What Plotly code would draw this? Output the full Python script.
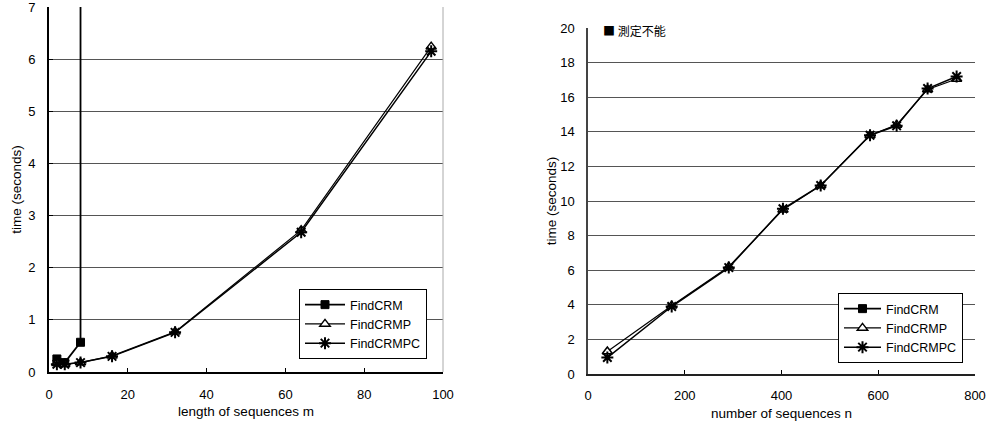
import plotly.graph_objects as go

# ---- Left chart data: length of sequences m ----
m_crm = [2, 4, 8, 8]
t_crm = [0.25, 0.18, 0.57, 9.0]          # last value: off-scale (measurement impossible)
m_vals = [2, 4, 8, 16, 32, 64, 97]
t_crmp_m = [0.17, 0.15, 0.18, 0.31, 0.77, 2.72, 6.24]
t_crmpc_m = [0.15, 0.15, 0.18, 0.30, 0.76, 2.68, 6.15]

# ---- Right chart data: number of sequences n ----
n_vals = [40, 173, 291, 403, 481, 583, 638, 702, 762]
t_crmp_n = [1.3, 3.95, 6.2, 9.5, 10.9, 13.8, 14.4, 16.45, 17.05]
t_crmpc_n = [0.95, 3.9, 6.15, 9.55, 10.9, 13.8, 14.35, 16.5, 17.2]

left_xticks = [0, 20, 40, 60, 80, 100]
left_yticks = [0, 1, 2, 3, 4, 5, 6, 7]
right_xticks = [0, 200, 400, 600, 800]
right_yticks = [0, 2, 4, 6, 8, 10, 12, 14, 16, 18, 20]
right_grid = [2, 4, 6, 8, 10, 12, 14, 16, 18]

FONT = "Liberation Sans"
W, H = 988, 430

def px(x):
    return x / W

def py(y):
    return 1 - y / H

sq = dict(symbol="square", size=8, color="black", line=dict(color="black", width=1))
tri = dict(symbol="triangle-up", size=9, color="white", line=dict(color="black", width=1.5))
ast = dict(symbol="asterisk-open", size=10, color="black", line=dict(color="black", width=2))

fig = go.Figure()

# left
fig.add_trace(go.Scatter(x=m_crm, y=t_crm, name="FindCRM", mode="lines+markers",
                         line=dict(color="black", width=1.8), marker=sq,
                         xaxis="x", yaxis="y", legend="legend"))
fig.add_trace(go.Scatter(x=m_vals, y=t_crmp_m, name="FindCRMP", mode="lines+markers",
                         line=dict(color="black", width=1.2), marker=tri,
                         xaxis="x", yaxis="y", legend="legend"))
fig.add_trace(go.Scatter(x=m_vals, y=t_crmpc_m, name="FindCRMPC", mode="lines+markers",
                         line=dict(color="black", width=1.5), marker=ast,
                         xaxis="x", yaxis="y", legend="legend"))

# right
fig.add_trace(go.Scatter(x=[None], y=[None], name="FindCRM", mode="lines+markers",
                         line=dict(color="black", width=1.8), marker=sq,
                         xaxis="x2", yaxis="y2", legend="legend2"))
fig.add_trace(go.Scatter(x=n_vals, y=t_crmp_n, name="FindCRMP", mode="lines+markers",
                         line=dict(color="black", width=1.2), marker=tri,
                         xaxis="x2", yaxis="y2", legend="legend2"))
fig.add_trace(go.Scatter(x=n_vals, y=t_crmpc_n, name="FindCRMPC", mode="lines+markers",
                         line=dict(color="black", width=1.5), marker=ast,
                         xaxis="x2", yaxis="y2", legend="legend2"))

tickfont = dict(family=FONT, size=13, color="black")
titlefont = dict(family=FONT, size=13.5, color="black")

common_x = dict(showgrid=False, zeroline=False, showline=True, ticks="inside", ticklen=4,
                tickcolor="black", tickfont=tickfont, automargin=False, ticklabelstandoff=9,
                ticklabeloverflow="allow")
common_y = dict(zeroline=False, showline=True, tickfont=tickfont, automargin=False,
                ticklabelstandoff=9, ticklabeloverflow="allow")

fig.update_layout(
    width=W, height=H,
    margin=dict(l=0, r=0, t=0, b=0),
    paper_bgcolor="white", plot_bgcolor="white",
    font=dict(family=FONT, color="black"),
    xaxis=dict(domain=[px(49), px(443)], range=[0, 100], tickvals=left_xticks,
               linecolor="black", linewidth=2,
               title=dict(text="length of sequences m", font=titlefont, standoff=6),
               anchor="y", **common_x),
    yaxis=dict(domain=[py(372), py(7)], range=[0, 7], tickvals=left_yticks,
               showgrid=True, gridcolor="#555", gridwidth=1,
               linecolor="black", linewidth=2,
               ticks="inside", ticklen=4, tickcolor="black",
               title=dict(text="time (seconds)", font=titlefont, standoff=3),
               anchor="x", **common_y),
    xaxis2=dict(domain=[px(588), px(975)], range=[0, 800], tickvals=right_xticks,
                linecolor="#222", linewidth=1.5,
                title=dict(text="number of sequences n", font=titlefont, standoff=6),
                anchor="y2", **common_x),
    yaxis2=dict(domain=[py(374), py(28)], range=[0, 20], tickvals=right_yticks,
                showgrid=False, linecolor="#444", linewidth=1.5, ticks="",
                minor=dict(tickmode="array", tickvals=right_grid, showgrid=True,
                           gridcolor="#555", gridwidth=1, ticks=""),
                title=dict(text="time (seconds)", font=titlefont, standoff=0),
                anchor="x2", **common_y),
    legend=dict(x=px(299), y=py(289), xanchor="left", yanchor="top",
                bgcolor="white", bordercolor="black", borderwidth=1,
                font=dict(family=FONT, size=12.5, color="black"),
                itemwidth=40, tracegroupgap=0),
    legend2=dict(x=px(838), y=py(293), xanchor="left", yanchor="top",
                 bgcolor="white", bordercolor="black", borderwidth=1,
                 font=dict(family=FONT, size=12.5, color="black"),
                 itemwidth=37, tracegroupgap=0),
    showlegend=True,
)

# light right border of the left plot area
fig.add_shape(type="line", xref="x domain", yref="y domain", x0=1, x1=1, y0=0, y1=1,
              line=dict(color="#aaa", width=1))

fig.add_annotation(text="■ 測定不能", xref="paper", yref="paper", x=px(601), y=py(31),
                   xanchor="left", yanchor="middle", showarrow=False,
                   font=dict(family="Noto Sans CJK JP", size=12, color="black"))

fig.write_html("out.html", config={"displayModeBar": False},
               post_script="document.body.style.margin='0';document.body.style.overflow='hidden';")
